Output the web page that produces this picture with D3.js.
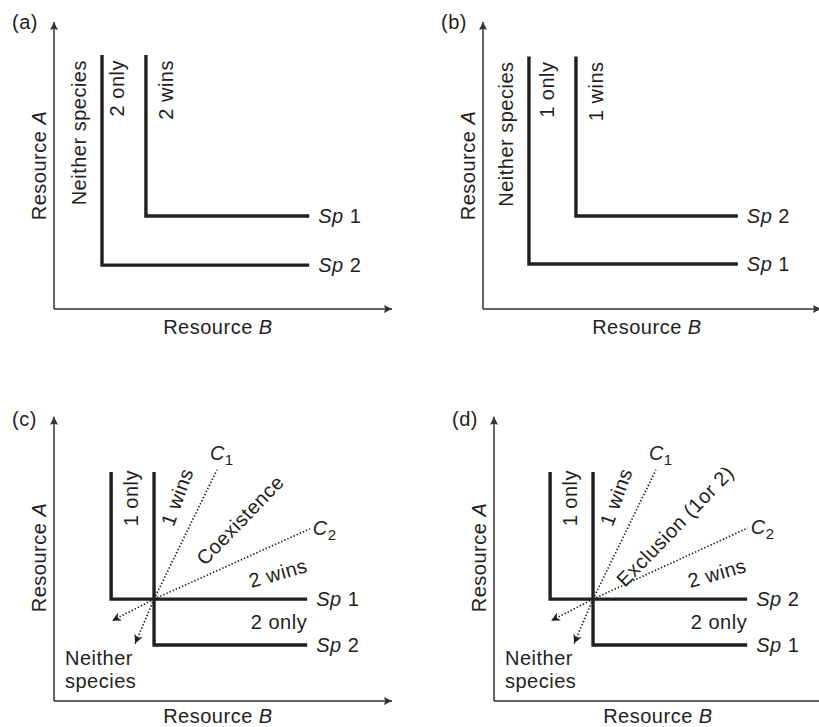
<!DOCTYPE html>
<html>
<head>
<meta charset="utf-8">
<script src="https://cdn.jsdelivr.net/npm/d3@7"></script>
<style>
  body { margin: 0; background: #fff; }
  svg text { font-family: "Liberation Sans", Arial, sans-serif; fill: #231f20; font-size: 20px; letter-spacing: 0.5px; }
</style>
</head>
<body>
<svg id="chart" width="819" height="727"></svg>
<script>
// panel order: a, b, c, d
const panelLabels = ["(a)", "(b)", "(c)", "(d)"];

// R* of each species on resource B (x) and resource A (y), per panel
const sp1RB = [2.72, 1.36, 1.69, 2.93];
const sp1RA = [3.24, 1.57, 3.55, 1.95];
const sp2RB = [1.42, 2.75, 2.96, 1.66];
const sp2RA = [1.53, 3.24, 1.95, 3.55];

// extent of the ZNGI arms
const zngiTop = [8.85, 8.8, 7.98, 7.98];
const zngiEnd = [7.55, 7.54, 7.49, 7.49];

// consumption vectors for panels c and d (tips)
const c1Tip = [[4.82, 8.05], [4.79, 8.05]];
const c2Tip = [[7.57, 6.0], [7.51, 6.03]];
// supply arrows pointing to "Neither species"
const back1Tip = [[1.72, 2.8], [1.69, 2.8]];
const back2Tip = [[2.4, 2.0], [2.37, 2.0]];

const vectorLabels = ["C", "C"];
const vectorSubs = ["1", "2"];
const middleRegion = ["Coexistence", "Exclusion (1or 2)"];

const origins = [[54, 309], [483, 309], [54, 701], [494, 701]];

const svg = d3.select("#chart");
const ink = "#231f20";

const defs = svg.append("defs");
defs.append("marker")
  .attr("id", "axisArrow")
  .attr("viewBox", "0 0 10 10")
  .attr("refX", 10).attr("refY", 5)
  .attr("markerWidth", 12).attr("markerHeight", 8)
  .attr("markerUnits", "userSpaceOnUse")
  .attr("orient", "auto")
  .append("path").attr("d", "M0,0L10,5L0,10L1.5,5z").attr("fill", "#333");
defs.append("marker")
  .attr("id", "smallArrow")
  .attr("viewBox", "0 0 10 10")
  .attr("refX", 10).attr("refY", 5)
  .attr("markerWidth", 10).attr("markerHeight", 9)
  .attr("markerUnits", "userSpaceOnUse")
  .attr("orient", "auto")
  .append("path").attr("d", "M0,0L10,5L0,10L3,5z").attr("fill", ink);

function spLabel(g, x, y, num) {
  const t = g.append("text")
    .attr("x", x).attr("y", y)
    .attr("dy", "0.35em");
  t.append("tspan").attr("font-style", "italic").text("Sp");
  t.append("tspan").text(" " + num);
}

function vText(g, xv, yv, txt, angle, anchor) {
  return g.append("text")
    .attr("transform", `translate(${xv},${yv}) rotate(${angle})`)
    .attr("text-anchor", anchor)
    .text(txt);
}

function drawPanel(i) {
  const g = svg.append("g").attr("transform", `translate(${origins[i][0]},${origins[i][1]})`);
  const x = d3.scaleLinear().domain([0, 10]).range([0, 338]);
  const y = d3.scaleLinear().domain([0, 10]).range([0, -287]);

  // axes with arrowheads
  g.append("line")
    .attr("x1", x(0)).attr("y1", y(0)).attr("x2", x(0)).attr("y2", y(i < 2 ? 10 : 9.9))
    .attr("stroke", "#333").attr("stroke-width", 1.5)
    .attr("marker-end", "url(#axisArrow)");
  g.append("line")
    .attr("x1", x(0)).attr("y1", y(0)).attr("x2", x(10)).attr("y2", y(0))
    .attr("stroke", "#333").attr("stroke-width", 1.5)
    .attr("marker-end", "url(#axisArrow)");

  g.append("text")
    .attr("x", x(0) - 42).attr("y", y(10) + (i < 2 ? 7 : 12))
    .text(panelLabels[i]);

  // axis titles
  const ta = g.append("text")
    .attr("transform", `translate(${x(0) - 8},${y(5)}) rotate(-90)`)
    .attr("text-anchor", "middle");
  ta.append("tspan").text("Resource ");
  ta.append("tspan").attr("font-style", "italic").text("A");

  const tb = g.append("text")
    .attr("x", x(4.85)).attr("y", y(0) + (i < 2 ? 25 : 22))
    .attr("text-anchor", "middle");
  tb.append("tspan").text("Resource ");
  tb.append("tspan").attr("font-style", "italic").text("B");

  // ZNGIs
  const zngi = [
    { rb: sp1RB[i], ra: sp1RA[i], name: "1" },
    { rb: sp2RB[i], ra: sp2RA[i], name: "2" }
  ];
  const line = d3.line().x(d => x(d[0])).y(d => y(d[1]));
  zngi.forEach(z => {
    g.append("path")
      .attr("d", line([[z.rb, zngiTop[i]], [z.rb, z.ra], [zngiEnd[i], z.ra]]))
      .attr("fill", "none")
      .attr("stroke", ink)
      .attr("stroke-width", 3.4)
      .attr("stroke-linejoin", "miter")
      .attr("stroke-linecap", "butt");
    spLabel(g, x(zngiEnd[i]) + 9, y(z.ra), z.name);
  });

  const inner = zngi[0].rb < zngi[1].rb ? zngi[0] : zngi[1];
  const outer = zngi[0].rb < zngi[1].rb ? zngi[1] : zngi[0];

  if (i < 2) {
    // panels a, b: vertical region labels
    const winner = outer.name === "1" ? "2" : "1";
    const top = y(zngiTop[i]) + 5;
    vText(g, x(inner.rb) - 16, top, "Neither species", -90, "end");
    vText(g, x(outer.rb) - 22, top, winner + " only", -90, "end");
    vText(g, x(outer.rb) + 27, top, winner + " wins", -90, "end");
  } else {
    const k = i - 2;
    const cx = x(outer.rb), cy = y(inner.ra);
    const dotted = (tip, marker) => {
      const p = g.append("line")
        .attr("x1", cx).attr("y1", cy)
        .attr("x2", x(tip[0])).attr("y2", y(tip[1]))
        .attr("stroke", ink)
        .attr("stroke-width", 1.7)
        .attr("stroke-dasharray", "1.4,2");
      if (marker) p.attr("marker-end", "url(#smallArrow)");
    };
    dotted(c1Tip[k], false);
    dotted(c2Tip[k], false);
    dotted(back1Tip[k], true);
    dotted(back2Tip[k], true);

    // consumption vector labels
    [c1Tip[k], c2Tip[k]].forEach((tip, j) => {
      const t = g.append("text")
        .attr("x", x(tip[0]) + (j === 0 ? -7 : 3))
        .attr("y", y(tip[1]) + (j === 0 ? -10 : 6))
        .attr("font-size", 21);
      t.append("tspan").attr("font-style", "italic").text(vectorLabels[j]);
      t.append("tspan").attr("font-size", 15).attr("dy", 5).text(vectorSubs[j]);
    });

    // region labels
    vText(g, cx - 16, y(zngiTop[i]) - 2, "1 only", -90, "end");
    vText(g, cx + 23, y(zngiTop[i]) + 25, "1 wins", -70, "middle").attr("dy", "0.35em");
    vText(g, cx + (i === 2 ? 86 : 82), cy - (i === 2 ? 79 : 73), middleRegion[k], -46, "middle").attr("dy", "0.35em");
    vText(g, cx + 124, cy - 26, "2 wins", -16, "middle").attr("dy", "0.35em");
    g.append("text")
      .attr("x", x(zngiEnd[i])).attr("y", (y(inner.ra) + y(outer.ra)) / 2)
      .attr("text-anchor", "end")
      .attr("dy", "0.35em")
      .text("2 only");

    const ns = g.append("text")
      .attr("x", x(0) + 11).attr("y", y(outer.ra) + 20);
    ns.append("tspan").text("Neither");
    ns.append("tspan").attr("x", x(0) + 11).attr("dy", 23).text("species");
  }
}

panelLabels.forEach((_, i) => drawPanel(i));
</script>
</body>
</html>
